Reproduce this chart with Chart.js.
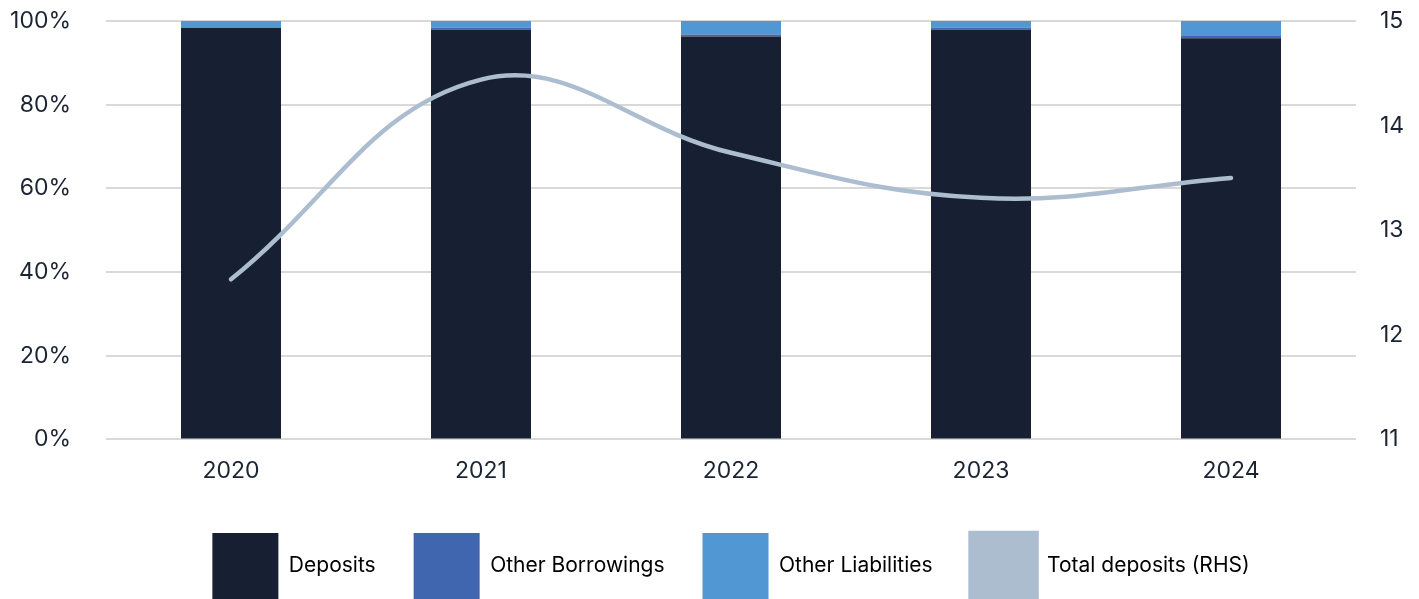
<!DOCTYPE html>
<html>
<head>
<meta charset="utf-8">
<script src="https://cdn.jsdelivr.net/npm/chart.js@4.4.1/dist/chart.umd.min.js"></script>
<style>
    html, body { margin: 0; padding: 0; background: #fff; overflow: hidden; }
    #wrap { width: 1419px; height: 609px; position: relative; }
</style>
</head>
<body>
<div id="wrap"><canvas id="chart1"></canvas></div>
<script>
// years on the x axis
var years = ['2020', '2021', '2022', '2023', '2024'];

// share of total liabilities, %
var deposits = [98.3, 97.9, 96.3, 97.9, 95.9];
var otherBorrowings = [0.0, 0.5, 0.5, 0.5, 0.5];
var otherLiabilities = [1.7, 1.6, 3.2, 1.6, 3.6];

// total deposits, right hand scale
var totalDeposits = [12.53, 14.44, 13.74, 13.31, 13.50];

var pctTicks = [0, 20, 40, 60, 80, 100];
var rhsTicks = [11, 12, 13, 14, 15];

Chart.defaults.font.family = 'Inter, "Noto Sans", sans-serif';
Chart.defaults.font.size = 23;
Chart.defaults.color = '#1c2434';

// fixed axis width; tick padding should not push the plot area down
function fixAxis(w) {
    return function (axis) {
        axis.width = w;
        axis.paddingTop = 0;
        axis.paddingBottom = 0;
    };
}

const dat = {
    labels: years,
    datasets: [{
        label: 'Deposits',
        data: deposits,
        backgroundColor: '#162032',
        stack: 's1',
        yAxisID: 'y',
        order: 1,
        barPercentage: 0.8,
        categoryPercentage: 0.5
    }, {
        label: 'Other Borrowings',
        data: otherBorrowings,
        backgroundColor: '#4066b0',
        stack: 's1',
        yAxisID: 'y',
        order: 1,
        barPercentage: 0.8,
        categoryPercentage: 0.5
    }, {
        label: 'Other Liabilities',
        data: otherLiabilities,
        backgroundColor: '#5097d3',
        stack: 's1',
        yAxisID: 'y',
        order: 1,
        barPercentage: 0.8,
        categoryPercentage: 0.5
    }, {
        type: 'line',
        label: 'Total deposits (RHS)',
        data: totalDeposits,
        borderColor: '#acbdd0',
        backgroundColor: '#acbdd0',
        borderWidth: 4.5,
        borderCapStyle: 'round',
        tension: 0.4,
        pointRadius: 0,
        yAxisID: 'y1',
        order: 0
    }]
};

const config = {
    type: 'bar',
    data: dat,
    options: {
        responsive: true,
        maintainAspectRatio: false,
        animation: false,
        layout: { padding: { left: 0, right: 0, top: 21, bottom: 0 } },
        plugins: {
            tooltip: { enabled: false },
            legend: {
                position: 'bottom',
                fullSize: false,
                labels: {
                    boxWidth: 66,
                    boxHeight: 66,
                    padding: 38,
                    color: '#000',
                    font: { size: 21 },
                    sort: function (a, b) { return a.datasetIndex - b.datasetIndex; }
                }
            }
        },
        scales: {
            x: {
                stacked: true,
                grid: { display: false },
                border: { display: false },
                ticks: { padding: 10 }
            },
            y: {
                stacked: true,
                min: 0,
                max: 100,
                afterBuildTicks: function (axis) {
                    axis.ticks = pctTicks.map(function (v) { return { value: v }; });
                },
                afterFit: fixAxis(106),
                ticks: {
                    padding: 35,
                    callback: function (v) { return v + '%'; }
                },
                grid: { color: '#d9d9d9', lineWidth: 2, drawTicks: false },
                border: { display: false }
            },
            y1: {
                position: 'right',
                min: 11,
                max: 15,
                afterBuildTicks: function (axis) {
                    axis.ticks = rhsTicks.map(function (v) { return { value: v }; });
                },
                afterFit: fixAxis(63),
                ticks: { padding: 24 },
                grid: { display: false, drawTicks: false },
                border: { display: false }
            }
        }
    }
};

const myChart = new Chart(
    document.getElementById('chart1'),
    config
);
</script>
</body>
</html>
